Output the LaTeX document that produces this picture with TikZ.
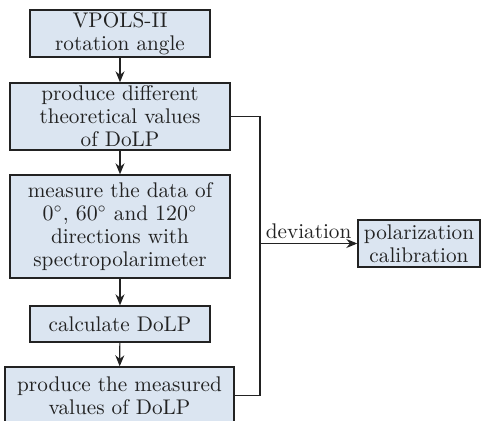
\documentclass[tikz,border=0pt]{standalone}
\usetikzlibrary{arrows.meta}
\definecolor{boxblue}{HTML}{DBE5F1}
\definecolor{ink}{HTML}{222222}
\begin{document}
\begin{tikzpicture}[x=0.5pt,y=-0.5pt,
  box/.style={draw=ink,line width=0.7pt,fill=boxblue,align=center,inner sep=0pt,
    text=ink,font=\fontsize{10.6}{11.5}\selectfont},
  flow/.style={draw=ink,line width=0.6pt,-{Stealth[length=5.5pt,width=4.5pt]}}]
\useasboundingbox (0,0) rectangle (481,421);
% boxes
\node [box,minimum width=90pt,minimum height=23.5pt] (rot) at (120,33.5) {VPOLS-II\\rotation angle};
\node [box,minimum width=110pt,minimum height=33.5pt] (theo) at (120,116.5) {produce different\\theoretical values\\of DoLP};
\node [box,minimum width=110pt,minimum height=51.5pt] (meas) at (120,226.5) {measure the data of\\$0^\circ$, $60^\circ$ and $120^\circ$\\directions with\\spectropolarimeter};
\node [box,minimum width=90pt,minimum height=18pt] (calc) at (120,324) {calculate DoLP};
\node [box,minimum width=114.5pt,minimum height=28.5pt] (prod) at (119.5,395.5) {produce the measured\\values of DoLP};
\node [box,minimum width=61pt,minimum height=23.5pt] (pol) at (419,243.5) {polarization\\calibration};
% arrows
\draw [flow] (rot) -- (theo);
\draw [flow] (theo) -- (meas);
\draw [flow] (meas) -- (calc);
\draw [flow] (calc) -- (prod);
% feedback
\coordinate (jn) at (260,243.5);
\draw [draw=ink,line width=0.6pt] (theo.east) -| (jn) |- (prod.east);
\draw [flow] (jn) -- node [above,text=ink,font=\fontsize{10.6}{11.5}\selectfont,inner sep=2pt] {deviation} (pol.west);
\end{tikzpicture}
\end{document}
